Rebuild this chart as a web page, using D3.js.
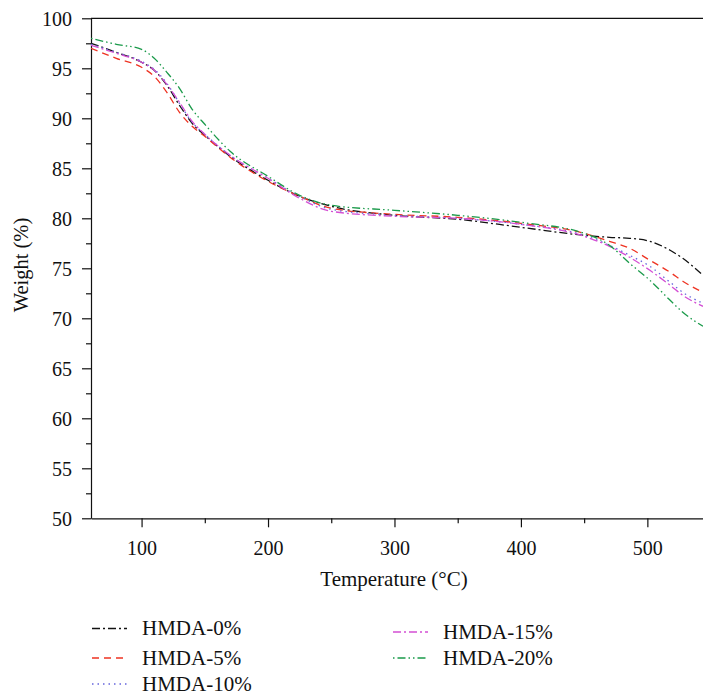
<!DOCTYPE html>
<html>
<head>
<meta charset="utf-8">
<script src="https://cdn.jsdelivr.net/npm/d3@7"></script>
<style>
  body { margin: 0; background: #fff; }
  svg { display: block; }
  svg text { font-family: "Liberation Serif", serif; }
</style>
</head>
<body>
<svg id="chart"></svg>
<script>
const width = 703;
const height = 695;
const serif = "Liberation Serif";

// temperatures (°C) at which each curve was read
const temps = [60, 80, 100, 110, 120, 130, 140, 150, 170, 200, 225, 250, 300, 350, 400, 450, 470, 486, 502, 518, 528, 544];

// weight (%) for each sample
const hmda0  = [97.5, 96.6, 95.6, 94.8, 93.3, 91.3, 89.5, 88.3, 86.2, 83.8, 82.2, 81.2, 80.3, 79.9, 79.1, 78.3, 78.1, 78.0, 77.7, 76.8, 76.0, 74.3];
const hmda5  = [97.0, 96.0, 95.1, 94.2, 92.6, 90.6, 89.2, 88.2, 86.1, 83.7, 82.2, 81.0, 80.4, 80.1, 79.5, 78.5, 77.7, 77.0, 75.8, 74.6, 73.7, 72.6];
const hmda10 = [97.4, 96.6, 95.7, 94.9, 93.5, 91.5, 89.6, 88.4, 86.3, 84.0, 82.2, 80.9, 80.3, 80.0, 79.4, 78.3, 77.3, 76.3, 75.2, 73.6, 72.6, 71.5];
const hmda15 = [97.3, 96.5, 95.6, 94.8, 93.4, 91.6, 89.7, 88.4, 86.3, 84.0, 82.0, 80.7, 80.2, 80.0, 79.4, 78.2, 77.2, 76.1, 74.8, 73.3, 72.3, 71.2];
const hmda20 = [98.0, 97.4, 96.9, 96.0, 94.6, 93.0, 90.9, 89.4, 86.7, 84.2, 82.3, 81.3, 80.8, 80.3, 79.6, 78.5, 77.3, 75.5, 73.8, 71.8, 70.6, 69.2];

const seriesNames = ["HMDA-0%", "HMDA-5%", "HMDA-10%", "HMDA-15%", "HMDA-20%"];
const seriesValues = [hmda0, hmda5, hmda10, hmda15, hmda20];

const xTicks = [100, 200, 300, 400, 500];
const yTicks = [50, 55, 60, 65, 70, 75, 80, 85, 90, 95, 100];

// colour and dash style per series
const colors = ["#111111", "#ee3322", "#6666dd", "#d44fd4", "#1a9a4a"];
const dashes = ["8,3,2,3", "7,5", "1.5,4", "8,3,2,3", "1.5,3,8,3,1.5,3"];

const margin = { top: 18.3, left: 91, right: 0, bottom: 176.7 };
const plotW = width - margin.left - margin.right;
const plotH = height - margin.top - margin.bottom;

const svg = d3.select("#chart").attr("width", width).attr("height", height);

const x = d3.scaleLinear().domain([60, 544]).range([0, plotW]);
const y = d3.scaleLinear().domain([50, 100]).range([plotH, 0]);

const g = svg.append("g").attr("transform", `translate(${margin.left},${margin.top})`);

g.append("defs").append("clipPath").attr("id", "clip")
  .append("rect").attr("width", plotW).attr("height", plotH);

// minor ticks
g.append("g")
  .attr("transform", `translate(0,${plotH})`)
  .call(d3.axisBottom(x).tickValues([150, 250, 350, 450]).tickSize(5).tickFormat(""))
  .call(a => a.select(".domain").remove());
g.append("g")
  .call(d3.axisLeft(y).tickValues(d3.range(52.5, 100, 5)).tickSize(5).tickFormat(""))
  .call(a => a.select(".domain").remove());

// major axes
const xAxis = g.append("g")
  .attr("transform", `translate(0,${plotH})`)
  .call(d3.axisBottom(x).tickValues(xTicks).tickSize(9).tickPadding(14).tickSizeOuter(0));
const yAxis = g.append("g")
  .call(d3.axisLeft(y).tickValues(yTicks).tickSize(9).tickPadding(10).tickSizeOuter(0));

[xAxis, yAxis].forEach(a => {
  a.attr("font-family", null);
  a.selectAll("text").attr("fill", "#111")
    .style("font-family", serif).style("font-size", "20px");
});
g.selectAll(".tick line, .domain").attr("stroke", "#111").attr("stroke-width", 1.2);
xAxis.selectAll("text").attr("dy", "0.71em");
yAxis.selectAll("text").attr("dy", "0.34em");

// top frame line
g.append("line")
  .attr("x1", 0).attr("x2", plotW).attr("y1", 0).attr("y2", 0)
  .attr("stroke", "#111").attr("stroke-width", 1.2);

// curves
const line = d3.line()
  .x(d => x(d[0]))
  .y(d => y(d[1]))
  .curve(d3.curveMonotoneX);

const curves = g.append("g").attr("clip-path", "url(#clip)");
seriesValues.forEach((vals, i) => {
  curves.append("path")
    .datum(temps.map((t, j) => [t, vals[j]]))
    .attr("d", line)
    .attr("fill", "none")
    .attr("stroke", colors[i])
    .attr("stroke-width", 1.3)
    .attr("stroke-dasharray", dashes[i]);
});

// axis titles
svg.append("text")
  .attr("x", 394).attr("y", 586)
  .attr("text-anchor", "middle")
  .attr("fill", "#111")
  .style("font-family", serif).style("font-size", "21px")
  .text("Temperature (°C)");

svg.append("text")
  .attr("transform", "translate(28,265) rotate(-90)")
  .attr("text-anchor", "middle")
  .attr("fill", "#111")
  .style("font-family", serif).style("font-size", "20.5px")
  .text("Weight (%)");

// legend
const legendPos = [
  { lx: 92, tx: 142, ly: 628.5 },
  { lx: 92, tx: 142, ly: 658 },
  { lx: 92, tx: 142, ly: 684 },
  { lx: 393, tx: 443, ly: 632 },
  { lx: 393, tx: 443, ly: 658 }
];

const legend = svg.append("g");
seriesNames.forEach((name, i) => {
  const p = legendPos[i];
  legend.append("line")
    .attr("x1", p.lx).attr("x2", p.lx + 35)
    .attr("y1", p.ly).attr("y2", p.ly)
    .attr("stroke", colors[i])
    .attr("stroke-width", 1.3)
    .attr("stroke-dasharray", dashes[i]);
  legend.append("text")
    .attr("x", p.tx).attr("y", p.ly + 6.5)
    .attr("fill", "#111")
    .style("font-family", serif).style("font-size", "21px")
    .text(name);
});
</script>
</body>
</html>
